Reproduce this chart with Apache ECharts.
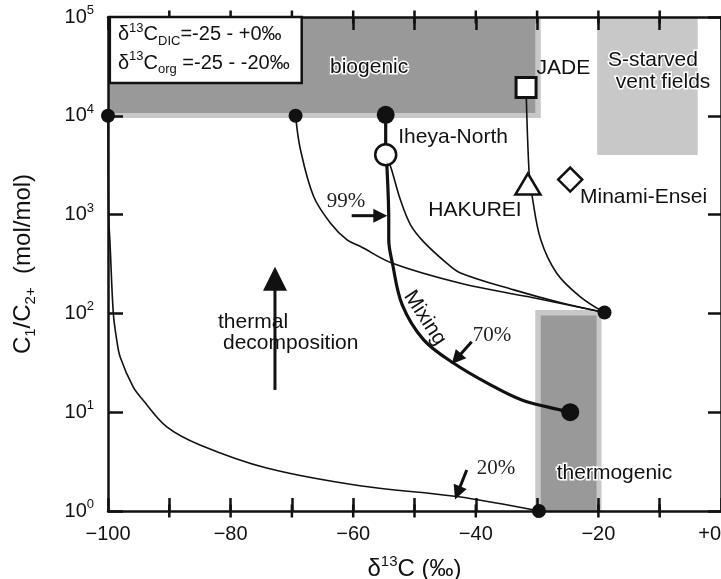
<!DOCTYPE html>
<html><head><meta charset="utf-8">
<script src="https://cdn.jsdelivr.net/npm/echarts@6/dist/echarts.min.js"></script>
<style>html,body{margin:0;padding:0;background:#fff}#c{width:721px;height:579px}</style>
</head><body><div id="c"></div>
<script>
// ---------- data ----------
const xTickValues = [-100, -80, -60, -40, -20, 0];
const xTickLabels = ['\u2212100', '\u221280', '\u221260', '\u221240', '\u221220', '+0'];
const xMinorTickValues = [-90, -80, -70, -60, -50, -40, -30, -20, -10];
const yTickExponents = [0, 1, 2, 3, 4, 5];

// regions: [xmin, xmax, ymin, ymax]
const biogenicOuter = [-100, -29.4, 9500, 100000];
const biogenicInner = [-100, -30.3, 10700, 100000];
const sStarvedBox   = [-20.2, -3.8, 4000, 100000];
const thermoOuter   = [-30.3, -19.5, 1, 108];
const thermoInner   = [-29.4, -20.3, 1, 95];

// curves
const curveAX = [-100, -99.9, -99.67, -99.13, -98.58, -98.0, -95.9, -94.3, -90.4, -85.0, -74.1, -58.9, -43.1, -29.7];
const curveAY = [10000, 1000, 513, 100, 54, 36, 18, 13.3, 7.1, 4.66, 2.72, 1.8, 1.40, 1];
const curveBX = [-69.4, -68.6, -66.45, -63.7, -61.0, -58.8, -53.6, -42.5, -31.6, -19.0];
const curveBY = [10000, 4530, 1524, 819, 555, 475, 322, 202, 148, 102];
const curveCX = [-54.7, -53.9, -52.3, -50.65, -48.5, -44.8, -42.5, -33.8, -26.1, -19.0];
const curveCY = [4030, 3070, 1410, 788, 530, 325, 257, 173, 128, 102];
const mixingX = [-54.7, -54.7, -54.5, -54.2, -54.2, -53.6, -52.0, -48.5, -43.6, -37.6, -32.5, -26.1, -24.6];
const mixingY = [10230, 4030, 3070, 885, 555, 322, 122, 54, 31.3, 18.9, 13.3, 10.5, 10];
const jadeLineX = [-31.8, -31.3, -30.8, -29.4, -26.8, -23.0, -19.0];
const jadeLineY = [19300, 2630, 1524, 555, 255, 148, 102];

// sites / end members
const smallDots = [[-100, 10000], [-69.4, 10000], [-19.0, 102], [-29.7, 1]];
const bigDots = [[-54.7, 10230], [-24.6, 10]];
const iheyaNorth = [[-54.7, 4030]];
const jadeSite = [[-31.8, 19300]];
const hakureiSite = [[-31.5, 2040]];
const minamiEnseiSite = [[-24.6, 2265]];

// ---------- chart ----------
const zip = (xs, ys) => xs.map((x, i) => [x, ys[i]]);
const chart = echarts.init(document.getElementById('c'), null, {renderer: 'canvas'});
const FONT = 'Liberation Sans';
const INK = '#111';

function rectItem(color) {
  return function (params, api) {
    const a = api.coord([api.value(0), api.value(3)]);
    const b = api.coord([api.value(1), api.value(2)]);
    return {type: 'rect', shape: {x: a[0], y: a[1], width: b[0] - a[0], height: b[1] - a[1]}, style: {fill: color}};
  };
}
function curve(xs, ys, w) {
  return {type: 'line', data: zip(xs, ys), smooth: 0.35, symbol: 'none', z: 4,
    lineStyle: {color: INK, width: w}, silent: true, clip: false};
}
function marker(data, symbol, size, filled, bw) {
  return {type: 'scatter', data: data, symbol: symbol, symbolSize: size, z: 6, silent: true,
    itemStyle: filled ? {color: INK, opacity: 1} : {color: '#fff', borderColor: INK, borderWidth: bw, opacity: 1}};
}
// inside x ticks drawn as thin bar symbols anchored on the bottom / top edges
function tickMarks(yEdge, offset) {
  return {type: 'scatter', data: xMinorTickValues.map(v => [v, yEdge]), symbol: 'rect',
    symbolSize: [2.5, 13], symbolOffset: [0, offset], z: 5, silent: true, clip: false,
    itemStyle: {color: INK, opacity: 1}};
}

const axisLineStyle = {color: INK, width: 2.5};
const subRich = {
  n: {fontSize: 24, fontFamily: FONT, color: INK, lineHeight: 30},
  sub: {fontSize: 15, fontFamily: FONT, color: INK, lineHeight: 15, verticalAlign: 'bottom'},
  sup: {fontSize: 15, fontFamily: FONT, color: INK, lineHeight: 15, verticalAlign: 'top'}
};

chart.setOption({
  animation: false,
  grid: {left: 108, right: 0, top: 17, bottom: 68, containLabel: false, outerBoundsMode: 'none'},
  xAxis: [{
    type: 'value', min: -100, max: 0, interval: 10, position: 'bottom', z: 3,
    axisLine: {onZero: false, lineStyle: axisLineStyle},
    axisTick: {show: true, inside: true, length: 13, lineStyle: {color: INK, width: 2.5}},
    splitLine: {show: false},
    axisLabel: {margin: 13, fontSize: 20, fontFamily: FONT, color: INK, alignMaxLabel: 'right',
      formatter: v => { const i = xTickValues.indexOf(Math.round(v)); return i >= 0 ? xTickLabels[i] : ''; }},
    name: '{n|\u03B4}{sup|13}{n|C (\u2030)}', nameLocation: 'middle', nameGap: 43,
    nameTextStyle: {fontSize: 24, fontFamily: FONT, color: INK, lineHeight: 30, rich: subRich}
  }, {
    type: 'value', min: -100, max: 0, interval: 10, position: 'top', z: 3, gridIndex: 0,
    axisLine: {show: true, onZero: false, lineStyle: axisLineStyle},
    axisTick: {show: true, inside: true, length: 13, lineStyle: {color: INK, width: 2.5}},
    splitLine: {show: false}, axisLabel: {show: false}
  }],
  yAxis: [{
    type: 'log', logBase: 10, min: 1, max: 100000, splitNumber: 5, position: 'left', z: 3,
    axisLine: {onZero: false, lineStyle: axisLineStyle},
    axisTick: {inside: true, length: 15, lineStyle: {color: INK, width: 2.5}},
    splitLine: {show: false}, minorTick: {show: false},
    axisLabel: {margin: 14, color: INK, fontFamily: FONT,
      formatter: v => { const e = Math.round(Math.log10(v)); return yTickExponents.indexOf(e) >= 0 ? '{b|10}{sup|' + e + '}' : ''; },
      rich: {
        b: {fontSize: 20, fontFamily: FONT, color: INK, lineHeight: 26},
        sup: {fontSize: 13, fontFamily: FONT, color: INK, lineHeight: 13, verticalAlign: 'top'}
      }},
    name: '{n|C}{sub|1}{n|/C}{sub|2+}{n|  (mol/mol)}', nameLocation: 'middle', nameGap: 70, nameRotate: 90,
    nameTextStyle: {fontSize: 24, fontFamily: FONT, color: INK, lineHeight: 30, rich: subRich}
  }, {
    type: 'log', logBase: 10, min: 1, max: 100000, splitNumber: 5, position: 'right', z: 3,
    axisLine: {show: true, onZero: false, lineStyle: axisLineStyle},
    axisTick: {show: true, inside: true, length: 13, lineStyle: {color: INK, width: 2.5}},
    splitLine: {show: false}, axisLabel: {show: false}
  }],
  series: [
    {type: 'custom', renderItem: rectItem('#c8c8c8'), data: [biogenicOuter, sStarvedBox, thermoOuter],
      encode: {x: [0, 1], y: [2, 3]}, z: 1, silent: true},
    {type: 'custom', renderItem: rectItem('#999999'), data: [biogenicInner, thermoInner],
      encode: {x: [0, 1], y: [2, 3]}, z: 1, silent: true},
    curve(curveAX, curveAY, 1.6),
    curve(curveBX, curveBY, 1.6),
    curve(curveCX, curveCY, 1.6),
    curve(jadeLineX, jadeLineY, 1.6),
    curve(mixingX, mixingY, 3.2),
    marker(smallDots, 'circle', 14, true),
    marker(bigDots, 'circle', 18, true),
    marker(iheyaNorth, 'circle', 21, false, 2.5),
    marker(jadeSite, 'rect', 20, false, 3),
    marker(hakureiSite, 'triangle', [25, 21], false, 2.5),
    marker(minamiEnseiSite, 'diamond', [24, 24], false, 2.5),
    tickMarks(1, [0, -6.5]),
    tickMarks(99990, [0, 6.5])
  ]
});

// ---------- annotations (data coordinates, converted by the chart) ----------
const labelNotes = [
  {t: 'biogenic', c: [-57.4, 31200], align: 'center', halo: true},
  {t: 'JADE', c: [-30.1, 30500], align: 'left'},
  {t: 'S-starved', c: [-11.1, 36700], align: 'center', halo: true},
  {t: 'vent fields', c: [-9.45, 22100], align: 'center', halo: true},
  {t: 'Iheya-North', c: [-52.65, 6140], align: 'left'},
  {t: 'HAKUREI', c: [-47.75, 1113], align: 'left'},
  {t: 'Minami-Ensei', c: [-23.0, 1507], align: 'left'},
  {t: 'thermogenic', c: [-26.8, 2.43], align: 'left', halo: true},
  {t: 'thermal', c: [-82.05, 82.4], align: 'left'},
  {t: 'decomposition', c: [-81.24, 50.1], align: 'left'},
  {t: 'Mixing', c: [-48.3, 89.8], align: 'center', rot: -57},
  {t: '99%', c: [-64.3, 1342], align: 'left', serif: true},
  {t: '70%', c: [-40.5, 60.4], align: 'left', serif: true},
  {t: '20%', c: [-39.85, 2.72], align: 'left', serif: true}
];
// arrows: tail -> tip
const arrowNotes = [
  {from: [-72.76, 16.8], to: [-72.76, 297], w: 3, L: 24, H: 12},
  {from: [-60.25, 975], to: [-54.44, 975], w: 3, L: 14, H: 7},
  {from: [-40.67, 51.7], to: [-43.93, 30.7], w: 3, L: 14, H: 7},
  {from: [-41.48, 2.60], to: [-43.39, 1.31], w: 3, L: 14, H: 7}
];
const boxTopLeft = [-99.7, 100000];
const boxBottomRight = [-68.4, 21500];
const boxLine1 = [-98.37, 65800];
const boxLine2 = [-98.37, 34200];

const toPx = p => chart.convertToPixel({seriesIndex: 2}, p);
const g = [];
labelNotes.forEach(n => {
  const p = toPx(n.c);
  g.push({type: 'text', x: p[0], y: p[1], rotation: (n.rot || 0) * Math.PI / 180, z: 50,
    style: {text: n.t, fontSize: 21, fontFamily: n.serif ? 'Liberation Serif' : FONT, fill: n.serif ? '#222' : INK,
      align: n.align, verticalAlign: 'middle',
      stroke: n.halo ? '#fff' : null, lineWidth: n.halo ? 3 : 0}});
});
arrowNotes.forEach(a => {
  const p0 = toPx(a.from), p1 = toPx(a.to);
  const dx = p1[0] - p0[0], dy = p1[1] - p0[1], len = Math.hypot(dx, dy);
  const ux = dx / len, uy = dy / len, nx = -uy, ny = ux;
  const bx = p1[0] - ux * a.L, by = p1[1] - uy * a.L;
  g.push({type: 'line', z: 50, shape: {x1: p0[0], y1: p0[1], x2: bx + ux, y2: by + uy},
    style: {stroke: INK, lineWidth: a.w}});
  g.push({type: 'polygon', z: 50, shape: {points: [[p1[0], p1[1]], [bx + nx * a.H, by + ny * a.H], [bx - nx * a.H, by - ny * a.H]]},
    style: {fill: INK}});
});
const b0 = toPx(boxTopLeft), b1 = toPx(boxBottomRight);
g.push({type: 'rect', z: 60, shape: {x: b0[0], y: b0[1], width: b1[0] - b0[0], height: b1[1] - b0[1]},
  style: {fill: '#fff', stroke: INK, lineWidth: 2.5}});
const boxRich = {
  n: {fontSize: 20, fontFamily: FONT, fill: INK, lineHeight: 26},
  sub: {fontSize: 13, fontFamily: FONT, fill: INK, lineHeight: 13, verticalAlign: 'bottom'},
  sup: {fontSize: 13, fontFamily: FONT, fill: INK, lineHeight: 13, verticalAlign: 'top'}
};
[[boxLine1, '{n|\u03B4}{sup|13}{n|C}{sub|DIC}{n|=-25 - +0\u2030}'],
 [boxLine2, '{n|\u03B4}{sup|13}{n|C}{sub|org}{n| =-25 - -20\u2030}']].forEach(([c, t]) => {
  const p = toPx(c);
  g.push({type: 'text', x: p[0], y: p[1], z: 61,
    style: {text: t, rich: boxRich, fontSize: 20, fontFamily: FONT, fill: INK, align: 'left', verticalAlign: 'middle'}});
});
chart.setOption({graphic: g});
</script>
</body></html>
